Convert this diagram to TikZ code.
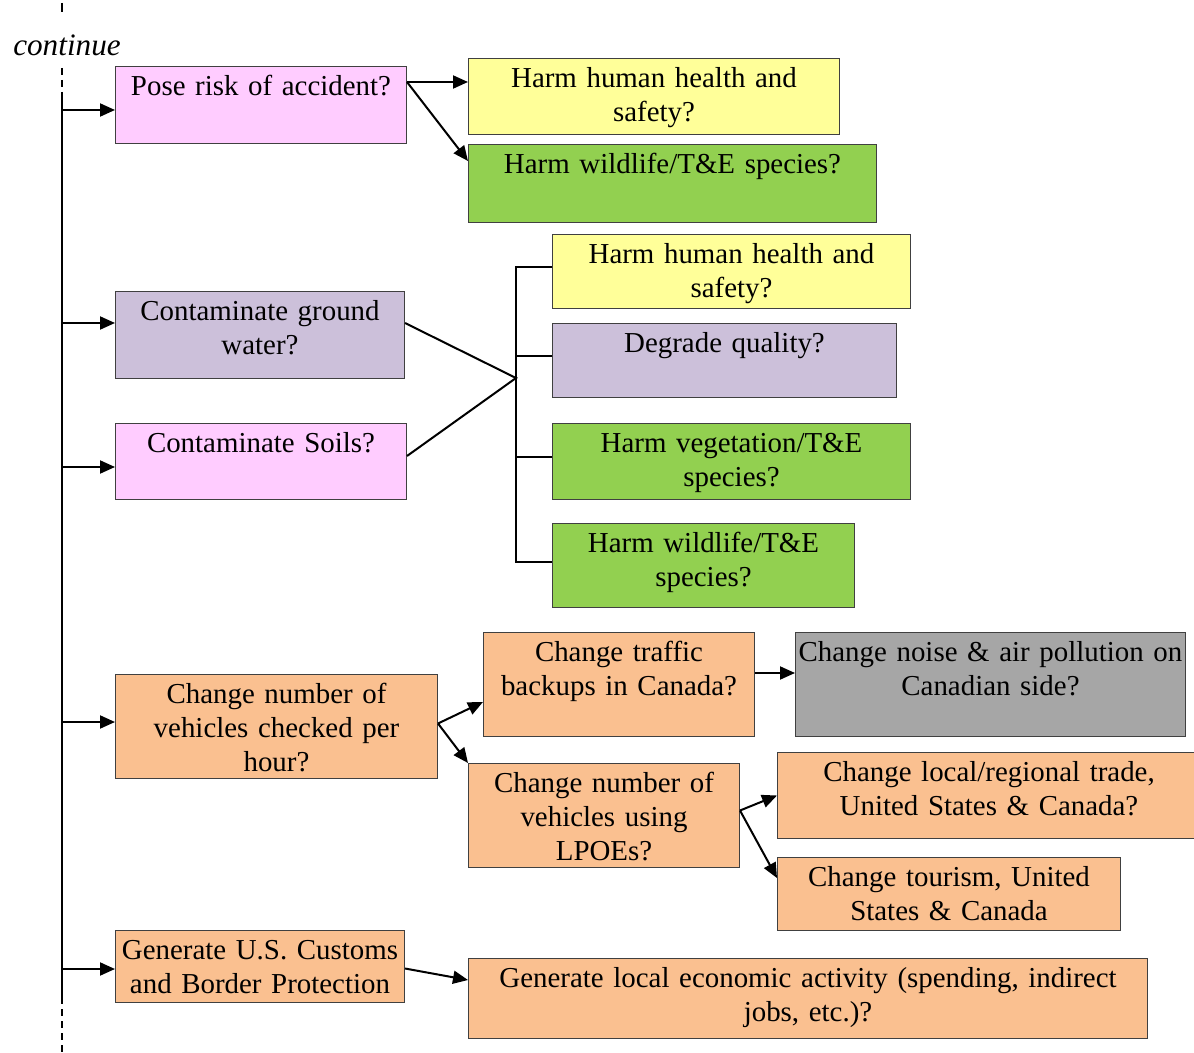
\documentclass[tikz,border=0pt]{standalone}
\usepackage{fontspec}
\setmainfont{Liberation Serif}
\usepackage{xcolor}
\usetikzlibrary{arrows.meta,calc}

\definecolor{pinkfill}{HTML}{FFCCFF}
\definecolor{yellowfill}{HTML}{FFFF99}
\definecolor{greenfill}{HTML}{92D050}
\definecolor{lilacfill}{HTML}{CCC0DA}
\definecolor{orangefill}{HTML}{FAC090}
\definecolor{grayfill}{HTML}{A6A6A6}

\begin{document}
\begin{tikzpicture}[
    x=0.5pt, y=-0.5pt,
    font=\fontsize{14.45}{17}\selectfont,
    cell/.style 2 args={rectangle, draw=black!75, line width=0.5pt, anchor=north west,
      align=center, inner xsep=0pt, inner ysep=5pt, text height=9.5pt,
      minimum width=#1*0.5pt, text width=#1*0.5pt, text depth=#2*0.5pt-19.5pt},
    link/.style={line width=1pt},
    arr/.style={link, -{Triangle[length=7.5pt,width=6.5pt]}},
    spinedash/.style={link, dash pattern=on 3.5pt off 2.5pt}
  ]
    \useasboundingbox (0,0) rectangle (1194,1053);

    % boxes
    \node[cell={291}{77}, fill=pinkfill] (pose) at (115,66) {Pose risk of accident?};
    \node[cell={371}{76}, fill=yellowfill] (humanA) at (468,58) {Harm human health and\\safety?};
    \node[cell={408}{78}, fill=greenfill] (wildA) at (468,144) {Harm wildlife/T\&E species?};
    \node[cell={289}{87}, fill=lilacfill] (ground) at (115,291) {Contaminate ground\\water?};
    \node[cell={291}{76}, fill=pinkfill] (soils) at (115,423) {Contaminate Soils?};
    \node[cell={358}{74}, fill=yellowfill] (humanB) at (552,234) {Harm human health and\\safety?};
    \node[cell={344}{74}, fill=lilacfill] (quality) at (552,323) {Degrade quality?};
    \node[cell={358}{76}, fill=greenfill] (veg) at (552,423) {Harm vegetation/T\&E\\species?};
    \node[cell={302}{84}, fill=greenfill] (wildB) at (552,523) {Harm wildlife/T\&E\\species?};
    \node[cell={322}{104}, fill=orangefill] (rate) at (115,674) {Change number of\\vehicles checked per\\hour?};
    \node[cell={271}{104}, fill=orangefill] (backup) at (483,632) {Change traffic\\backups in Canada?};
    \node[cell={390}{104}, fill=grayfill] (noise) at (795,632) {Change noise \& air pollution on\\Canadian side?};
    \node[cell={271}{104}, fill=orangefill] (lpoe) at (468,763) {Change number of\\vehicles using\\LPOEs?};
    \node[cell={423}{86}, fill=orangefill] (trade) at (777,752) {Change local/regional trade,\\United States \& Canada?};
    \node[cell={343}{73}, fill=orangefill] (tourism) at (777,857) {Change tourism, United\\States \& Canada};
    \node[cell={289}{72}, fill=orangefill] (cbp) at (115,930) {Generate U.S. Customs\\and Border Protection};
    \node[cell={679}{80}, fill=orangefill] (economy) at (468,958) {Generate local economic activity (spending, indirect\\jobs, etc.)?};

    % left spine
    \node[font=\fontsize{15.6}{17}\selectfont\itshape] (cont) at (67,45) {continue};
    \coordinate (dashA1) at (62,3);
    \coordinate (dashA2) at (62,12);
    \coordinate (dashB) at (62,68);
    \coordinate (spineTop) at (62,98);
    \coordinate (spineBot) at (62,997);
    \coordinate (dashC) at (62,1053);
    \draw[link] (dashA1) -- (dashA2);
    \draw[spinedash] (dashB) -- (spineTop);
    \draw[link] (spineTop) -- (spineBot);
    \draw[spinedash] (spineBot) -- (dashC);

    \coordinate (jPose) at (62,110);
    \coordinate (jGround) at (62,323);
    \coordinate (jSoils) at (62,467);
    \coordinate (jRate) at (62,722);
    \coordinate (jCbp) at (62,969);
    \draw[arr] (jPose) -- (jPose -| pose.west);
    \draw[arr] (jGround) -- (jGround -| ground.west);
    \draw[arr] (jSoils) -- (jSoils -| soils.west);
    \draw[arr] (jRate) -- (jRate -| rate.west);
    \draw[arr] (jCbp) -- (jCbp -| cbp.west);

    % accident branch
    \coordinate (poseOut) at ($(pose.north east)+(0,16)$);
    \draw[arr] (poseOut) -- (poseOut -| humanA.west);
    \draw[arr] (poseOut) -- ($(wildA.north west)+(0,17)$);

    % water and soil bracket
    \coordinate (hub) at (516,378);
    \draw[link] ($(ground.north east)+(0,32)$) -- (hub) -- ($(soils.north east)+(0,33)$);
    \draw[link] ([yshift=2pt]humanB.west) -| (hub) |- ([yshift=2pt]wildB.west);
    \draw[link] ([yshift=2pt]quality.west) -- ([yshift=2pt]quality.west -| hub);
    \draw[link] ([yshift=2pt]veg.west) -- ([yshift=2pt]veg.west -| hub);

    % traffic branch
    \coordinate (rateOut) at ([yshift=1.5pt]rate.east);
    \draw[arr] (rateOut) -- ($(backup.north west)+(0,70)$);
    \draw[arr] (rateOut) -- (lpoe.north west);
    \draw[arr] ($(backup.north east)+(0,41)$) -- ($(noise.north west)+(0,41)$);
    \coordinate (lpoeOut) at ([yshift=2.5pt]lpoe.east);
    \draw[arr] (lpoeOut) -- (trade.west);
    \draw[arr] (lpoeOut) -- ($(tourism.north west)+(0,21)$);

    % economy branch
    \draw[arr] ([yshift=-1pt]cbp.east) -- ($(economy.north west)+(0,22)$);
  \end{tikzpicture}
\end{document}
